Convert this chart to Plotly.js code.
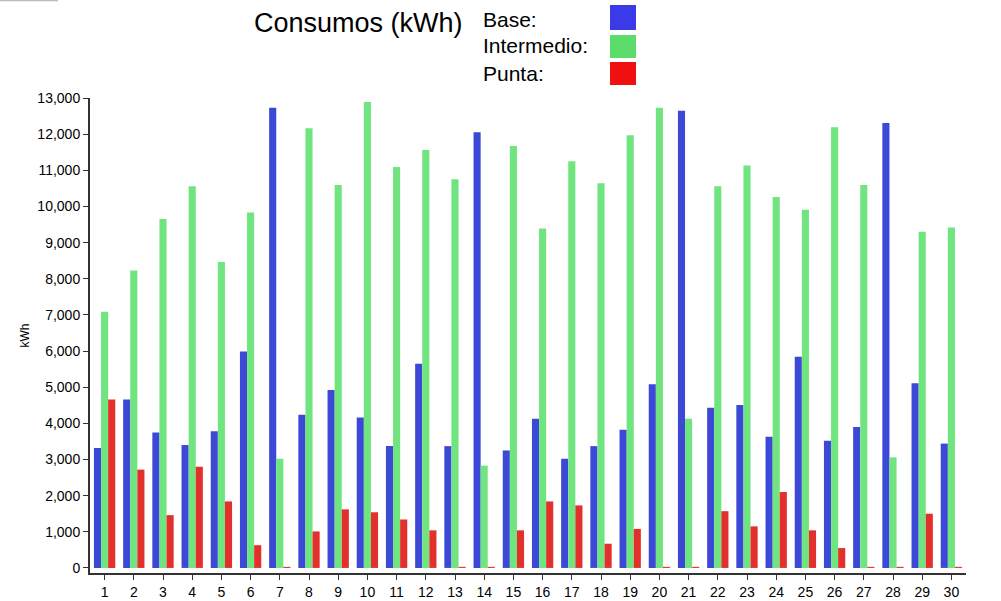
<!DOCTYPE html>
<html>
<head>
<meta charset="utf-8">
<script src="https://cdn.plot.ly/plotly-3.0.1.min.js"></script>
<style>
html,body{margin:0;padding:0;background:#fff;}
#chart{width:1001px;height:601px;}
</style>
</head>
<body>
<div id="chart"></div>
<script>
var days = ["1","2","3","4","5","6","7","8","9","10","11","12","13","14","15","16","17","18","19","20","21","22","23","24","25","26","27","28","29","30"];
var base = [3320,4660,3750,3400,3780,5990,12730,4240,4920,4160,3370,5650,3370,12050,3250,4130,3020,3370,3820,5080,12650,4430,4510,3630,5840,3520,3900,12310,5110,3440];
var intermedio = [7090,8230,9650,10560,8460,9830,3020,12160,10590,12890,11090,11560,10750,2830,11670,9390,11250,10640,11970,12730,4130,10560,11130,10260,9910,12190,10590,3060,9300,9420];
var punta = [4660,2720,1460,2800,1840,630,30,1010,1620,1540,1340,1040,30,30,1040,1840,1730,670,1080,30,30,1570,1150,2100,1040,550,30,30,1500,30];
var seriesNames = ["Base:", "Intermedio:", "Punta:"];
var barColors = ["#3c48d6", "#70e47e", "#e3302c"];
var legendColors = ["#3a3ae8", "#5cdc6a", "#f01010"];
var chartTitle = "Consumos (kWh)";
var yTitle = "kWh";

var FONT = "Liberation Sans, Arial, sans-serif";
var W = 1001, H = 601;
var plotL = 90, plotR = 966, plotT = 98, plotB = 573;
function px2paperX(px){ return (px - plotL) / (plotR - plotL); }
function px2paperY(py){ return (plotB - py) / (plotB - plotT); }

var seriesData = [base, intermedio, punta];
var traces = seriesData.map(function(vals, i){
  return {
    type: "bar",
    x: days,
    y: vals,
    name: seriesNames[i],
    marker: {color: barColors[i], line: {width: 0}},
    hoverinfo: "x+y"
  };
});

var annotations = [];
var shapes = [];
var legendRowsY = [19, 46, 74];
var boxRows = [[5,30],[35,58],[62,85]];
for (var i = 0; i < seriesNames.length; i++){
  annotations.push({
    xref: "paper", yref: "paper",
    x: px2paperX(481), y: px2paperY(legendRowsY[i]),
    xanchor: "left", yanchor: "middle",
    text: seriesNames[i], showarrow: false,
    font: {family: FONT, size: 21, color: "#000"}
  });
  shapes.push({
    type: "rect", xref: "paper", yref: "paper",
    x0: px2paperX(610), x1: px2paperX(636),
    y0: px2paperY(boxRows[i][1]), y1: px2paperY(boxRows[i][0]),
    fillcolor: legendColors[i], line: {color: legendColors[i], width: 0}
  });
}
annotations.push({
  xref: "paper", yref: "paper",
  x: px2paperX(358), y: px2paperY(23),
  xanchor: "center", yanchor: "middle",
  text: chartTitle, showarrow: false,
  font: {family: FONT, size: 27, color: "#000"}
});
shapes.push({
  type: "line", xref: "paper", yref: "paper",
  x0: px2paperX(0), x1: px2paperX(58),
  y0: px2paperY(0.5), y1: px2paperY(0.5),
  line: {color: "#bbbbbb", width: 1.5}
});

var layout = {
  width: W, height: H,
  margin: {l: plotL, r: W - plotR, t: plotT, b: H - plotB, pad: 0},
  paper_bgcolor: "#ffffff",
  plot_bgcolor: "#ffffff",
  showlegend: false,
  barmode: "group",
  bargap: 0.27,
  bargroupgap: 0,
  font: {family: FONT, size: 14, color: "#000"},
  xaxis: {
    type: "category",
    range: [-0.5, 29.5],
    showline: true, linecolor: "#333", linewidth: 2,
    ticks: "outside", ticklen: 5, tickcolor: "#333", tickwidth: 1,
    showgrid: false, zeroline: false,
    tickfont: {family: FONT, size: 14, color: "#000"},
    fixedrange: true
  },
  yaxis: {
    range: [-140, 13000],
    tickvals: [0,1000,2000,3000,4000,5000,6000,7000,8000,9000,10000,11000,12000,13000],
    tickformat: ",d",
    showline: true, linecolor: "#333", linewidth: 2,
    ticks: "outside", ticklen: 5, tickcolor: "#333", tickwidth: 1,
    showgrid: false, zeroline: false,
    tickfont: {family: FONT, size: 14, color: "#000"},
    title: {text: yTitle, font: {family: FONT, size: 12, color: "#000"}, standoff: 5},
    fixedrange: true
  },
  annotations: annotations,
  shapes: shapes
};

Plotly.newPlot("chart", traces, layout, {displayModeBar: false, staticPlot: true});
</script>
</body>
</html>
